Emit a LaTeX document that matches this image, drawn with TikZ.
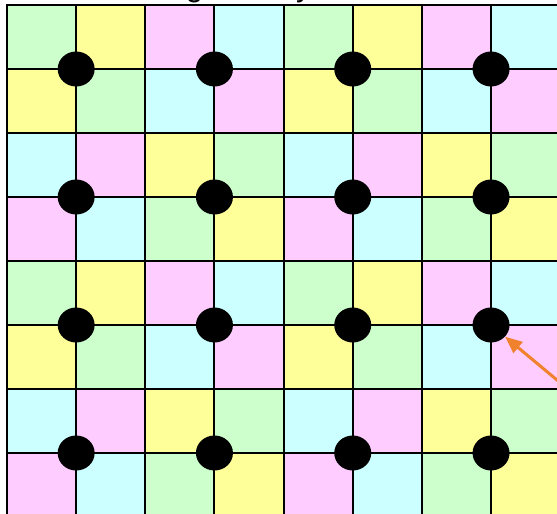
\documentclass[tikz,border=0pt]{standalone}
\usepackage{fontspec}
\setmainfont{Liberation Sans}
\usetikzlibrary{shapes.geometric,arrows.meta}
\definecolor{cg}{HTML}{CCFFCC}
\definecolor{cy}{HTML}{FFFF99}
\definecolor{cp}{HTML}{FFCCFF}
\definecolor{cc}{HTML}{CCFFFF}
\definecolor{arrorange}{HTML}{F0822E}
\tikzset{
  gridline/.style={draw=black, line width=2pt},
  dot/.style={ellipse, fill=black, draw=none, minimum width=37pt, minimum height=35pt, inner sep=0pt},
  pointer/.style={draw=arrorange, line width=3pt, -{Triangle[length=17pt,width=14pt]}},
  titletext/.style={anchor=base west, inner sep=0pt, font=\fontsize{31}{36}\selectfont}
}
\begin{document}
\begin{tikzpicture}[x=1pt,y=-1pt]
\useasboundingbox (0,0) rectangle (557,514);
\clip (0,0) rectangle (557,514);
\fill[white] (0,0) rectangle (557,514);
\node[titletext] (title) at (130,-3.5) {Tiling and layers};
\foreach \r in {0,...,7}{
  \foreach \c in {0,...,7}{
    \pgfmathtruncatemacro\k{mod(\r,4)*4+mod(\c,4)}
    \pgfmathsetmacro\col{{"cg","cy","cp","cc","cy","cg","cc","cp","cc","cp","cy","cg","cp","cc","cg","cy"}[\k]}
    \fill[\col] ({7+\c*69.15},{5+\r*64}) rectangle ++(69.15,64);
  }
}
\foreach \c in {0,...,8}{
  \draw[gridline] ({7+\c*69.15},4) -- ({7+\c*69.15},520);
}
\foreach \r in {0,...,8}{
  \draw[gridline] (6,{5+\r*64}) -- (570,{5+\r*64});
}
\foreach \i in {1,...,4}{
  \foreach \j in {1,...,4}{
    \node[dot] (d\i\j) at ({7+(2*\i-1)*69.15},{5+(2*\j-1)*64}) {};
  }
}
\coordinate (tail) at (590,407.5);
\draw[pointer] (tail) -- (d43);
\end{tikzpicture}
\end{document}
